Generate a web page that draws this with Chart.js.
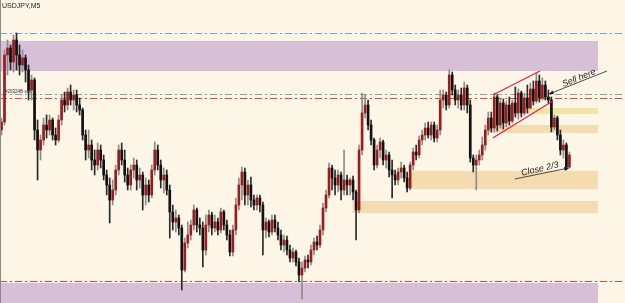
<!DOCTYPE html>
<html><head><meta charset="utf-8">
<script src="https://cdn.jsdelivr.net/npm/chart.js@4.4.1/dist/chart.umd.min.js"></script>
<style>html,body{margin:0;padding:0;background:#fdf5e6;overflow:hidden}canvas{display:block}</style>
</head><body>
<canvas id="c" width="625" height="303"></canvas>
<script>
// USDJPY M5 candles (price levels, arbitrary units)
const openP  = [173,181,248,255,241,263,248,238,245,233,213,223,173,153,163,178,173,183,168,163,183,203,198,211,203,208,198,193,168,153,158,143,138,153,143,128,118,103,113,133,153,143,128,118,133,138,123,128,108,118,108,133,153,138,123,128,113,91,81,85,75,33,60,68,78,93,78,75,53,78,88,75,81,73,91,78,68,51,73,98,118,131,108,118,103,98,105,98,73,81,71,83,75,68,58,63,53,45,51,41,28,35,43,41,53,61,58,73,95,108,135,125,118,128,113,123,118,123,111,93,153,190,198,178,163,138,153,161,143,148,133,128,123,131,135,125,115,138,151,148,163,168,175,168,178,165,173,203,208,198,228,213,203,208,198,215,198,145,138,143,148,158,173,185,175,206,178,200,180,198,182,200,190,210,190,205,195,214,202,222,205,218,206,203,176,185,168,153,158,136];
const highP  = [185,253,263,258,268,270,258,253,248,238,228,225,183,168,185,188,188,185,175,188,208,211,215,218,213,213,205,195,173,173,163,153,160,158,148,133,125,123,138,158,160,153,135,138,145,143,135,131,125,123,138,161,158,143,135,133,118,98,93,88,78,65,81,83,98,95,85,81,88,93,91,88,85,95,93,83,73,78,105,125,136,135,123,126,108,108,108,101,85,83,88,88,81,73,68,67,58,55,53,45,41,47,48,58,65,67,78,100,113,140,138,133,133,131,153,128,125,127,113,158,210,208,203,183,165,158,165,163,153,151,143,133,135,141,138,131,141,155,158,167,173,180,181,181,181,178,213,213,211,233,231,218,213,215,221,218,203,148,148,153,166,178,191,191,210,208,205,204,202,206,203,216,214,212,210,218,220,222,230,228,225,222,213,206,188,187,173,163,160,151];
const lowP   = [168,178,228,233,231,233,228,231,221,203,203,163,123,143,158,165,168,163,158,161,178,191,193,198,193,191,188,163,143,145,133,128,133,135,123,108,80,98,108,128,138,121,113,113,125,113,115,93,98,101,105,128,133,115,110,108,65,73,71,68,13,31,55,63,73,71,68,36,48,71,68,71,68,70,73,63,47,47,68,93,103,98,98,96,93,93,91,48,65,66,68,71,63,53,51,48,41,41,37,21,4,31,35,38,48,53,55,68,91,105,113,108,111,103,108,108,108,103,63,90,148,185,173,158,133,135,145,138,135,126,105,118,118,125,121,111,113,133,143,145,158,163,165,163,161,161,168,195,193,195,208,198,195,193,193,190,141,131,113,138,143,153,168,171,171,172,175,174,176,178,180,186,184,186,188,190,194,198,200,201,203,203,200,171,173,163,148,145,133,135];
const closeP = [181,248,255,241,263,248,238,245,233,213,223,173,153,163,178,173,183,168,163,183,203,198,211,203,208,198,193,168,153,158,143,138,153,143,128,118,103,113,133,153,143,128,118,133,138,123,128,108,118,108,133,153,138,123,128,113,91,81,85,75,33,60,68,78,93,78,75,53,78,88,75,81,73,91,78,68,51,73,98,118,131,108,118,103,98,105,98,73,81,71,83,75,68,58,63,53,45,51,41,28,35,43,41,53,61,58,73,95,108,135,125,118,128,113,123,118,123,111,93,153,190,198,178,163,138,153,161,143,148,133,128,123,131,135,125,115,138,151,148,163,168,175,168,178,165,173,203,208,198,228,213,203,208,198,215,198,145,138,143,148,158,173,185,175,206,178,200,180,198,182,200,190,210,190,205,195,214,202,222,205,218,206,203,176,185,168,153,158,136,148];
const slotCount = 208;            // bar slots across the window (incl. empty right margin)
const slotLabels = Array.from({length: slotCount}, (_, i) => String(i));

// horizontal levels (price)
const levelValues = [270, 209.5, 205, 22];
const levelColors = ['#6aa6dc', '#9a9a9a', '#e8413f', '#e8413f'];

// zones: start/end bar index, low/high price
const zoneStart = [-0.5, 175.2, 160.8, 136.2, 116.8, -0.5];
const zoneEnd   = [198.5, 198.5, 198.5, 198.5, 198.5, 198.5];
const zoneHigh  = [262, 195, 178, 132, 102, 20];
const zoneLow   = [232, 189, 170, 114, 90, -10];
const zoneColors = ['#d8bfd8', '#efe6a6', '#f4dcb0', '#f4dcb0', '#f4dcb0', '#d8bfd8'];

// channel trendlines [barIndex, price]
const channelUpper = [[163.5, 208], [179.2, 232]];
const channelLower = [[163.5, 165], [183.5, 202]];
// annotation arrows [from, to]
const sellArrow  = [[201.5, 232], [182.2, 209]];
const closeArrow = [[170.8, 124], [188.8, 135]];
const sellText  = {text: 'Sell here', at: [192.2, 225]};
const closeText = {text: 'Close 2/3', at: [179.2, 134]};
const orderText = {text: '#29324B sell', at: [1.2, 210.5]};

const bull = closeP.map((c, i) => c >= openP[i]);
const wickData = lowP.map((l, i) => [l, highP[i]]);
const bodyData = openP.map((o, i) => [Math.min(o, closeP[i]), Math.max(o, closeP[i])]);

const overlay = {
  id: 'overlay',
  beforeDraw(chart) {
    const ctx = chart.ctx;
    ctx.save();
    ctx.fillStyle = '#fdf5e6';
    ctx.fillRect(0, 0, chart.width, chart.height);
    ctx.restore();
  },
  beforeDatasetsDraw(chart) {
    const {ctx, scales: {x, y}} = chart;
    ctx.save();
    for (let k = 0; k < zoneHigh.length; k++) {
      const x0 = x.getPixelForValue(zoneStart[k]), x1 = x.getPixelForValue(zoneEnd[k]);
      const y0 = y.getPixelForValue(zoneHigh[k]), y1 = y.getPixelForValue(zoneLow[k]);
      ctx.fillStyle = zoneColors[k];
      ctx.fillRect(x0, y0, x1 - x0, y1 - y0);
    }
    ctx.lineWidth = 1;
    ctx.setLineDash([7, 3, 2, 3]);
    for (let k = 0; k < levelValues.length; k++) {
      const py = Math.round(y.getPixelForValue(levelValues[k])) + 0.5;
      ctx.strokeStyle = levelColors[k];
      ctx.beginPath();
      ctx.moveTo(0, py);
      ctx.lineTo(chart.width, py);
      ctx.stroke();
    }
    ctx.restore();
  },
  afterDatasetsDraw(chart) {
    const {ctx, scales: {x, y}} = chart;
    const P = p => [x.getPixelForValue(p[0]), y.getPixelForValue(p[1])];
    ctx.save();
    ctx.strokeStyle = '#8a8a8a';
    ctx.lineWidth = 1;
    ctx.beginPath(); ctx.moveTo(0.5, 0); ctx.lineTo(0.5, chart.height); ctx.stroke();
    ctx.strokeStyle = '#e3234b';
    ctx.lineWidth = 1.3;
    [channelUpper, channelLower].forEach(l => {
      const a = P(l[0]), b = P(l[1]);
      ctx.beginPath(); ctx.moveTo(a[0], a[1]); ctx.lineTo(b[0], b[1]); ctx.stroke();
    });
    ctx.strokeStyle = '#3a3a3a';
    ctx.fillStyle = '#1a1a1a';
    ctx.lineWidth = 0.9;
    [sellArrow, closeArrow].forEach(l => {
      const a = P(l[0]), b = P(l[1]);
      ctx.beginPath(); ctx.moveTo(a[0], a[1]); ctx.lineTo(b[0], b[1]); ctx.stroke();
      const ang = Math.atan2(b[1] - a[1], b[0] - a[0]);
      const s = 5;
      ctx.beginPath();
      ctx.moveTo(b[0], b[1]);
      ctx.lineTo(b[0] - s * Math.cos(ang - 0.4), b[1] - s * Math.sin(ang - 0.4));
      ctx.lineTo(b[0] - s * Math.cos(ang + 0.4), b[1] - s * Math.sin(ang + 0.4));
      ctx.closePath(); ctx.fill();
    });
    ctx.fillStyle = '#1e1e1e';
    ctx.textAlign = 'center';
    ctx.textBaseline = 'middle';
    ctx.font = 'italic 9px "Liberation Sans", Arial, sans-serif';
    let p = P(sellText.at);
    ctx.save(); ctx.translate(p[0], p[1]); ctx.rotate(-22 * Math.PI / 180); ctx.fillText(sellText.text, 0, 0); ctx.restore();
    p = P(closeText.at);
    ctx.save(); ctx.translate(p[0], p[1]); ctx.rotate(-13 * Math.PI / 180); ctx.fillText(closeText.text, 0, 0); ctx.restore();
    ctx.textAlign = 'left';
    ctx.textBaseline = 'alphabetic';
    ctx.font = '4.5px "Liberation Sans", Arial, sans-serif';
    ctx.fillStyle = '#333';
    p = P(orderText.at);
    ctx.fillText(orderText.text, p[0], p[1]);
    ctx.font = '7px "Liberation Sans", Arial, sans-serif';
    ctx.fillStyle = '#222';
    ctx.fillText('USDJPY,M5', 2, 8);
    ctx.restore();
  }
};

new Chart(document.getElementById('c'), {
  type: 'bar',
  data: {
    labels: slotLabels,
    datasets: [
      {
        label: 'wick',
        data: wickData,
        backgroundColor: bull.map(b => b ? '#8c8c8c' : '#2a2a2a'),
        barThickness: 1,
        grouped: false,
        order: 2
      },
      {
        label: 'body',
        data: bodyData,
        backgroundColor: bull.map(b => b ? '#9e1b1b' : '#111111'),
        barThickness: 2,
        minBarLength: 1,
        grouped: false,
        order: 1
      }
    ]
  },
  options: {
    responsive: false,
    animation: false,
    layout: {padding: 0},
    plugins: {legend: {display: false}, tooltip: {enabled: false}, title: {display: false}},
    scales: {
      x: {display: false, offset: true},
      y: {display: false, min: 0, max: 303}
    }
  },
  plugins: [overlay]
});
</script>
</body></html>
